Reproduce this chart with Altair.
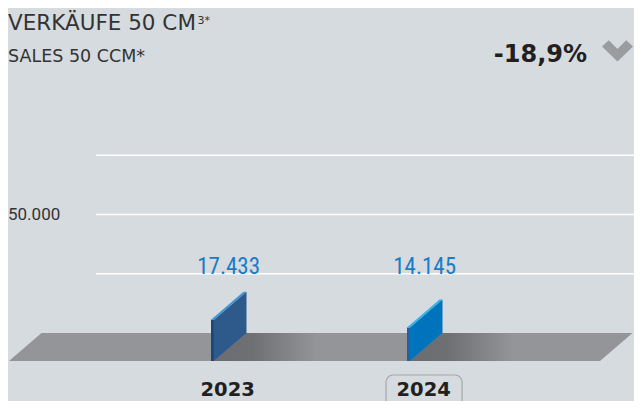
import altair as alt
import pandas as pd

# ---------------- data ----------------
YEARS = ["2023", "2024"]
SALES = [17433, 14145]
SALES_LABELS = ["17.433", "14.145"]
GRID_VALUES = [25000, 50000, 75000]
AXIS_TICK_VALUE = 50000
AXIS_TICK_LABEL = "50.000"
TITLE = "VERKÄUFE 50 CM"
TITLE_SUP = "3*"
SUBTITLE = "SALES 50 CCM*"
CHANGE = "-18,9%"

# ---------------- layout / style ----------------
W, H = 626, 393
X_DOMAIN = [-1.03571, 2.15816]        # category-index units
Y_DOMAIN = [-28700, 137150]           # sales units
DEPTH_X = 0.166                       # pseudo-3D depth in x units
DEPTH_Y = 11816                       # pseudo-3D depth in y units
FACE_W = 0.015                        # bar slab thickness
FLOOR_X = [-1.0306, 1.9847]
GRID_X0 = -0.5867
SHADOW_LEN = 0.36
LABEL_DX = 0.09
YEAR_DX = 0.085
YEAR_Y = -24058
BOX_X = [-0.107, 0.281]
BOX_Y = [-17728, -36000]

BG = "#d6dbdf"
FLOOR = "#939598"
SIDE_COLORS = ["#2d5a8b", "#0073bd"]
FRONT_COLORS = ["#1b4679", "#2360a3"]
TOP_COLORS = ["#3d93da", "#33b0ea"]
VALUE_COLOR = "#1b7cc6"
TEXT_COLOR = "#333333"

xs = alt.Scale(domain=X_DOMAIN, nice=False, zero=False)
ys = alt.Scale(domain=Y_DOMAIN, nice=False, zero=False)


def X(f):
    return alt.X(f"{f}:Q", scale=xs, axis=None)


def Y(f):
    return alt.Y(f"{f}:Q", scale=ys, axis=None, stack=None)


idx = list(range(len(YEARS)))

# bars: front face
front_df = pd.DataFrame({
    "year": YEARS,
    "x": idx,
    "x2": [i + FACE_W for i in idx],
    "y": [-DEPTH_Y] * len(idx),
    "y2": [v - DEPTH_Y for v in SALES],
    "c": FRONT_COLORS,
})

side_rows, top_rows, shadow_rows = [], [], []
for i, v, yr, sc, tc in zip(idx, SALES, YEARS, SIDE_COLORS, TOP_COLORS):
    side_rows += [
        {"year": yr, "x": i + FACE_W, "y": v - DEPTH_Y, "y2": -DEPTH_Y, "c": sc},
        {"year": yr, "x": i + FACE_W + DEPTH_X, "y": v, "y2": 0, "c": sc},
    ]
    slope = DEPTH_Y / DEPTH_X
    top_rows += [
        {"year": yr, "x": i, "y": v - DEPTH_Y, "y2": v - DEPTH_Y, "c": tc},
        {"year": yr, "x": i + FACE_W, "y": v - DEPTH_Y + slope * FACE_W, "y2": v - DEPTH_Y, "c": tc},
        {"year": yr, "x": i + DEPTH_X, "y": v, "y2": v - DEPTH_Y + slope * (DEPTH_X - FACE_W), "c": tc},
        {"year": yr, "x": i + FACE_W + DEPTH_X, "y": v, "y2": v, "c": tc},
    ]
    shadow_rows += [
        {"year": yr, "x": i + FACE_W, "y": -DEPTH_Y, "y2": -DEPTH_Y},
        {"year": yr, "x": i + FACE_W + DEPTH_X, "y": 0, "y2": -DEPTH_Y},
        {"year": yr, "x": i + FACE_W + DEPTH_X + SHADOW_LEN, "y": 0, "y2": -DEPTH_Y},
    ]
side_df = pd.DataFrame(side_rows)
top_df = pd.DataFrame(top_rows)
shadow_df = pd.DataFrame(shadow_rows)

floor_df = pd.DataFrame({
    "x": [FLOOR_X[0], FLOOR_X[0] + DEPTH_X, FLOOR_X[1], FLOOR_X[1] + DEPTH_X],
    "y": [-DEPTH_Y, 0, 0, 0],
    "y2": [-DEPTH_Y, -DEPTH_Y, -DEPTH_Y, 0],
})

grid_df = pd.DataFrame({
    "x": [GRID_X0] * len(GRID_VALUES),
    "x2": [X_DOMAIN[1]] * len(GRID_VALUES),
    "y": GRID_VALUES,
})

tick_df = pd.DataFrame({"x": [X_DOMAIN[0]], "y": [AXIS_TICK_VALUE], "t": [AXIS_TICK_LABEL]})

value_df = pd.DataFrame({
    "x": [i + LABEL_DX for i in idx],
    "y": [GRID_VALUES[0]] * len(idx),
    "t": SALES_LABELS,
})

year_df = pd.DataFrame({
    "x": [i + YEAR_DX for i in idx],
    "y": [YEAR_Y] * len(idx),
    "t": YEARS,
})

last = idx[-1]
box_df = pd.DataFrame({
    "x": [last + BOX_X[0]], "x2": [last + BOX_X[1]],
    "y": [BOX_Y[0]], "y2": [BOX_Y[1]],
})

head_df = pd.DataFrame({"t": [TITLE], "s": [TITLE_SUP], "sub": [SUBTITLE], "chg": [CHANGE]})

# ---------------- layers ----------------
grid = alt.Chart(grid_df).mark_rule(color="white", strokeWidth=1.6).encode(
    x=X("x"), x2="x2", y=Y("y"))

tick = alt.Chart(tick_df).mark_text(
    align="left", baseline="middle", font="Roboto", fontSize=17, color=TEXT_COLOR
).encode(x=X("x"), y=Y("y"), text="t:N")

floor = alt.Chart(floor_df).mark_area(color=FLOOR, opacity=1).encode(
    x=X("x"), y=Y("y"), y2="y2")

shadow = alt.Chart(shadow_df).mark_area(
    opacity=1,
    color=alt.Gradient(
        gradient="linear",
        stops=[alt.GradientStop(color="#6a6c6f", offset=0),
               alt.GradientStop(color="#6e7073", offset=0.38),
               alt.GradientStop(color=FLOOR, offset=1)],
        x1=0, x2=1, y1=0, y2=0),
).encode(x=X("x"), y=Y("y"), y2="y2", detail="year:N")

side = alt.Chart(side_df).mark_area(opacity=1).encode(
    x=X("x"), y=Y("y"), y2="y2", detail="year:N",
    color=alt.Color("c:N", scale=None))

front = alt.Chart(front_df).mark_rect().encode(
    x=X("x"), x2="x2", y=Y("y"), y2="y2", color=alt.Color("c:N", scale=None))

top = alt.Chart(top_df).mark_area(opacity=1).encode(
    x=X("x"), y=Y("y"), y2="y2", detail="year:N",
    color=alt.Color("c:N", scale=None))

values = alt.Chart(value_df).mark_text(
    align="center", baseline="alphabetic",
    font="Liberation Sans Narrow, Roboto Condensed, Roboto, sans-serif",
    fontSize=23, color=VALUE_COLOR
).encode(x=X("x"), y=Y("y"), text="t:N")

years = alt.Chart(year_df).mark_text(
    align="center", baseline="middle", font="DejaVu Sans", fontWeight="bold",
    fontSize=19.5, color="#231f20"
).encode(x=X("x"), y=Y("y"), text="t:N")

box = alt.Chart(box_df).mark_rect(
    filled=False, color="#a5a7aa", strokeWidth=1.2, cornerRadius=7
).encode(x=X("x"), x2="x2", y=Y("y"), y2="y2")

title = alt.Chart(head_df).mark_text(
    align="left", baseline="alphabetic", font="DejaVu Sans", fontSize=21.5,
    color=TEXT_COLOR
).encode(x=alt.value(0), y=alt.value(22), text="t:N")

title_sup = alt.Chart(head_df).mark_text(
    align="left", baseline="alphabetic", font="DejaVu Sans", fontSize=11,
    color=TEXT_COLOR
).encode(x=alt.value(189.5), y=alt.value(16), text="s:N")

subtitle = alt.Chart(head_df).mark_text(
    align="left", baseline="alphabetic", font="DejaVu Sans", fontSize=17.5,
    color=TEXT_COLOR
).encode(x=alt.value(0), y=alt.value(54), text="sub:N")

change = alt.Chart(head_df).mark_text(
    align="right", baseline="alphabetic", font="DejaVu Sans", fontWeight="bold",
    fontSize=24, color="#231f20"
).encode(x=alt.value(579), y=alt.value(54), text="chg:N")

CHEVRON = "M-1,-0.32 L-0.56,-0.72 L0,-0.16 L0.56,-0.72 L1,-0.32 L0,0.64 Z"
chevron = alt.Chart(head_df).mark_point(
    shape=CHEVRON, filled=True, color="#9a9c9f", size=961, opacity=1, strokeWidth=0
).encode(x=alt.value(609.5), y=alt.value(43.5))

chart = alt.layer(
    grid, tick, floor, shadow, side, front, top, values, years, box,
    title, title_sup, subtitle, change, chevron
).properties(
    width=W, height=H, padding=0,
    autosize=alt.AutoSizeParams(type="none"),
    background=BG,
).configure_view(strokeWidth=0)

chart.save("out.html", embed_options={"renderer": "svg", "actions": False})
